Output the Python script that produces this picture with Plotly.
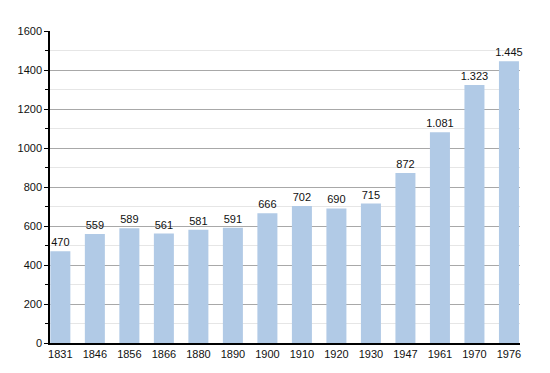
import plotly.graph_objects as go

years = ["1831", "1846", "1856", "1866", "1880", "1890", "1900", "1910", "1920", "1930", "1947", "1961", "1970", "1976"]
population = [470, 559, 589, 561, 581, 591, 666, 702, 690, 715, 872, 1081, 1323, 1445]
labels = [f"{v:,}".replace(",", ".") for v in population]

fig = go.Figure()
fig.add_trace(go.Bar(
    x=years, y=population, text=labels, textposition="outside",
    constraintext="none",
    textfont=dict(size=11, color="#111", family="Liberation Sans, Arial, sans-serif"),
    marker=dict(color="#b1cae6", line=dict(width=0)),
    cliponaxis=False,
))
fig.update_layout(
    width=550, height=373,
    margin=dict(l=42, r=38, t=23, b=38, autoexpand=False),
    paper_bgcolor="white", plot_bgcolor="white",
    bargap=0.42, showlegend=False,
    font=dict(family="Liberation Sans, Arial, sans-serif", size=11, color="#111"),
)
fig.update_xaxes(
    type="category", range=[-0.3, 13.32], automargin=False,
    showline=True, linecolor="black", linewidth=1.5,
    ticks="", showgrid=False, tickfont=dict(size=11),
)
fig.update_yaxes(
    range=[0, 1600], dtick=200, tick0=0, automargin=False,
    showline=True, linecolor="black", linewidth=1.5,
    ticks="outside", ticklen=4, tickcolor="black",
    showgrid=True, gridcolor="#a8a8a8", gridwidth=1,
    minor=dict(dtick=100, showgrid=True, gridcolor="#e6e6e6", ticks="outside", ticklen=3, tickcolor="black"),
    zeroline=False, tickfont=dict(size=11),
)
fig.write_html("out.html")
